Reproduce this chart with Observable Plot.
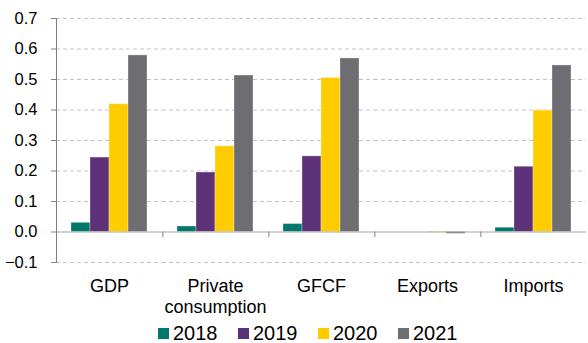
<!DOCTYPE html>
<html>
<head>
<meta charset="utf-8">
<script src="https://cdn.jsdelivr.net/npm/d3@7"></script>
<script src="https://cdn.jsdelivr.net/npm/@observablehq/plot@0.6"></script>
<style>
  body { margin: 0; background: #fff; font-family: "Liberation Sans", Arial, sans-serif; }
  #chart { width: 588px; }
  .legend { display: flex; height: 27px; margin-top: 4px; align-items: center; padding-left: 158px; box-sizing: border-box; }
  .legend .item { display: flex; align-items: center; width: 80px; font-size: 20px; color: #000; }
  .legend .sw { width: 11px; height: 11px; margin-right: 4px; flex: none; }
</style>
</head>
<body>
<div id="chart"></div>
<script>
const categories = ["GDP", "Private\nconsumption", "GFCF", "Exports", "Imports"];
const years = ["2018", "2019", "2020", "2021"];
const v2018 = [0.030, 0.018, 0.026, 0.000, 0.014];
const v2019 = [0.244, 0.195, 0.248, 0.000, 0.214];
const v2020 = [0.419, 0.281, 0.505, -0.002, 0.398];
const v2021 = [0.579, 0.513, 0.569, -0.006, 0.546];
const yTicks = [-0.1, 0.0, 0.1, 0.2, 0.3, 0.4, 0.5, 0.6, 0.7];
const colors = ["#00796b", "#5e3278", "#ffcc00", "#6e6d71"];

const series = [v2018, v2019, v2020, v2021];
const data = [];
categories.forEach((c, i) => years.forEach((y, j) => data.push({category: c, year: y, value: series[j][i]})));

const chart = Plot.plot({
  width: 588,
  height: 316,
  marginLeft: 54,
  marginRight: 0,
  marginTop: 18,
  marginBottom: 54,
  style: {fontFamily: "'Liberation Sans', Arial, sans-serif", fontSize: "16px", color: "#000", background: "#fff"},
  fx: {domain: categories, padding: 0, label: null},
  x: {domain: years, paddingInner: 0, paddingOuter: 0.74, axis: null},
  y: {domain: [-0.1, 0.7], label: null},
  color: {domain: years, range: colors},
  marks: [
    Plot.ruleY(yTicks.filter(d => d !== 0), {y: d => d, stroke: "#c4c4c4", strokeWidth: 1.2, strokeDasharray: "4,3"}),
    Plot.barY(data, {fx: "category", x: "year", y: "value", fill: "year", stroke: "#ffffff", strokeOpacity: 0.3, strokeWidth: 1}),
    Plot.ruleY([0], {y: d => d, stroke: "#a6a6a6", strokeWidth: 1.2}),
    Plot.ruleX(categories.slice(1), {fx: d => d, x: () => "2018", dx: -24.15, y1: () => 0, y2: () => 0, insetBottom: -5.5, stroke: "#808080"}),
    Plot.frame({anchor: "left", facetAnchor: "left", stroke: "#808080"}),
    Plot.axisY({ticks: yTicks, tickFormat: d3.format(".1f"), tickSize: 5, tickPadding: 14, fontSize: 16.5, stroke: "#808080", label: null}),
    Plot.axisFx({anchor: "bottom", tickSize: 0, tickPadding: 15, fontSize: 18, lineHeight: 1.15, label: null})
  ]
});
document.getElementById("chart").appendChild(chart);

const legend = document.createElement("div");
legend.className = "legend";
years.forEach((y, i) => {
  const item = document.createElement("div");
  item.className = "item";
  const sw = document.createElement("span");
  sw.className = "sw";
  sw.style.background = colors[i];
  const t = document.createElement("span");
  t.textContent = y;
  item.appendChild(sw);
  item.appendChild(t);
  legend.appendChild(item);
});
document.getElementById("chart").appendChild(legend);
</script>
</body>
</html>
